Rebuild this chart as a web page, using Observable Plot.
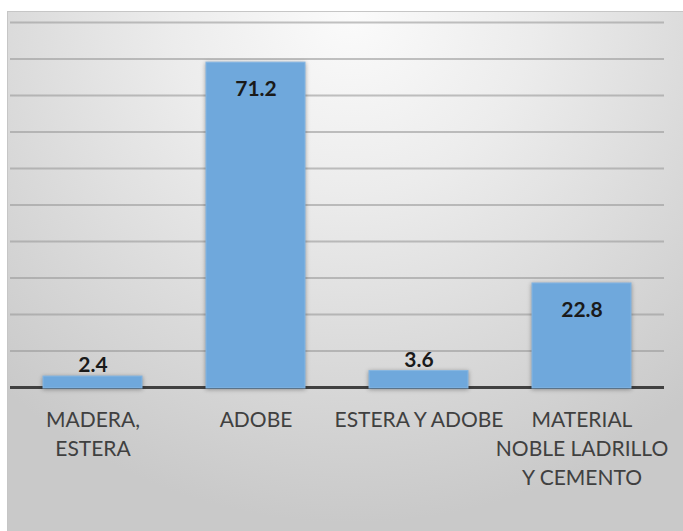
<!DOCTYPE html>
<html>
<head>
<meta charset="utf-8">
<script src="https://cdn.jsdelivr.net/npm/d3@7"></script>
<script src="https://cdn.jsdelivr.net/npm/@observablehq/plot@0.6"></script>
<style>
  html, body { margin: 0; padding: 0; background: #ffffff; overflow: hidden; }
  #wrap { position: relative; width: 683px; height: 531px; }
  #panel {
    position: absolute; left: 7px; top: 11px; width: 690px; height: 540px;
    border: 1px solid #c6c6c6; box-sizing: border-box;
    background: radial-gradient(ellipse 75% 95% at 50% 0%, #fbfbfb 0%, #ececec 35%, #d9d9d9 70%, #c9c9c9 100%);
  }
  #chart { position: absolute; left: 0; top: 0; }
</style>
</head>
<body>
<div id="wrap"><div id="panel"></div><div id="chart"></div></div>
<script>
const categories = ["MADERA, ESTERA", "ADOBE", "ESTERA Y ADOBE", "MATERIAL NOBLE LADRILLO Y CEMENTO"];
const tickLabels = ["MADERA,\nESTERA", "ADOBE", "ESTERA Y ADOBE", "MATERIAL\nNOBLE LADRILLO\nY CEMENTO"];
const values = [2.4, 71.2, 3.6, 22.8];
const gridTicks = [8, 16, 24, 32, 40, 48, 56, 64, 72, 80];

const data = categories.map((c, i) => ({category: c, value: values[i]}));

const chart = Plot.plot({
  width: 683,
  height: 531,
  marginLeft: 10,
  marginRight: 19,
  marginTop: 22,
  marginBottom: 144,
  style: {background: "transparent", fontFamily: "Lato, 'Open Sans', sans-serif"},
  x: {domain: categories, paddingInner: 0.39, paddingOuter: 0.195},
  y: {domain: [0, 80], axis: null},
  marks: [
    Plot.ruleY(gridTicks, {stroke: "#9a9a9a", strokeOpacity: 0.6, strokeWidth: 2}),
    Plot.ruleY([0], {stroke: "#404040", strokeWidth: 3}),
    Plot.barY(data, {x: "category", y: "value", fill: "#6fa8dc", stroke: "#86b6e2", strokeWidth: 1, insetBottom: -1}),
    Plot.text(data, {filter: d => d.value > 10, x: "category", y: "value", text: d => d.value.toFixed(1), dy: 27, fontSize: 21, fontWeight: "bold", fill: "#1a1a1a"}),
    Plot.text(data, {filter: d => d.value <= 10, x: "category", y: "value", text: d => d.value.toFixed(1), dy: -11, fontSize: 21, fontWeight: "bold", fill: "#1a1a1a"}),
    Plot.axisX({tickSize: 0, tickPadding: 19, fontSize: 21, lineHeight: 1.38, fill: "#404040", label: null,
      tickFormat: d => tickLabels[categories.indexOf(d)]})
  ]
});

d3.select(chart).select('g[aria-label="bar"]').style("filter", "drop-shadow(0px 1px 2px rgba(0,0,0,0.35))");
document.getElementById("chart").appendChild(chart);
</script>
</body>
</html>
